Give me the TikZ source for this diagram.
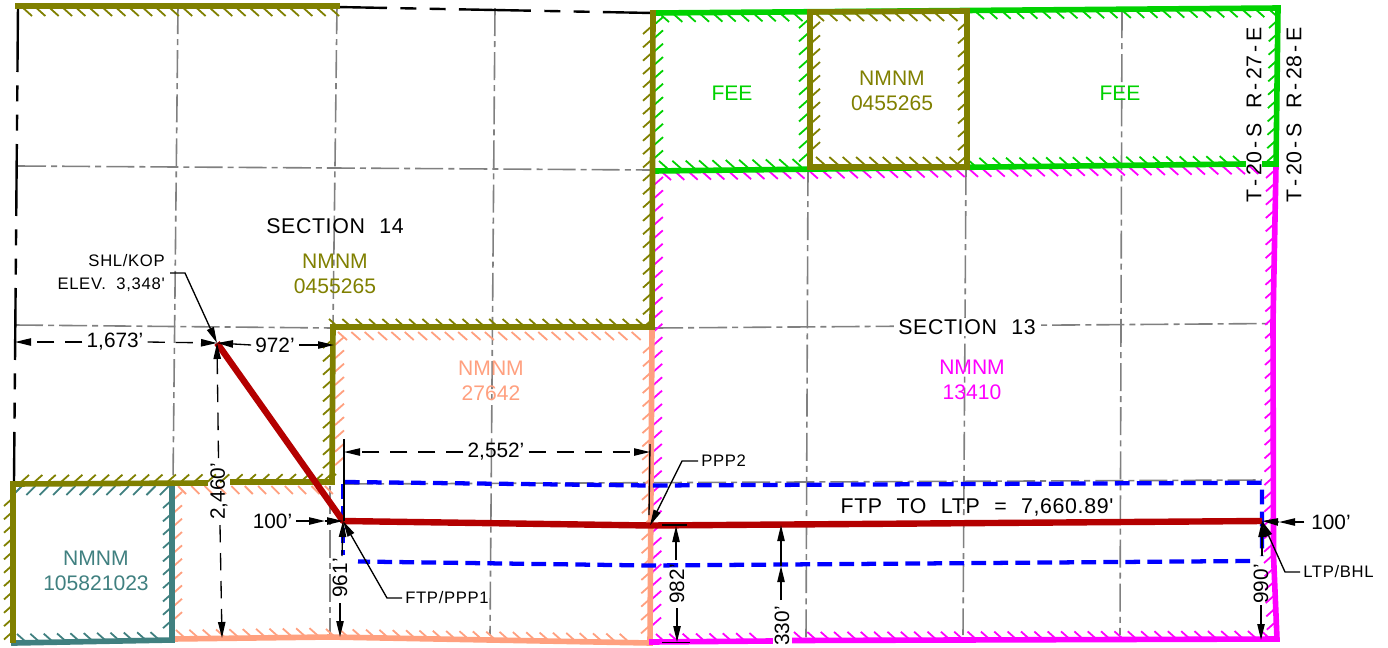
\documentclass[tikz,border=0pt]{standalone}
\usepackage{fontspec}
\setmainfont{Liberation Sans}
\newfontfamily\cadfont[LetterSpace=3,WordSpace=2.2]{Liberation Sans}
\newfontfamily\cadsmall[LetterSpace=4,WordSpace=2.0]{Liberation Sans}
\usetikzlibrary{arrows.meta}
\definecolor{olivec}{HTML}{808000}
\definecolor{greenc}{HTML}{00D200}
\definecolor{magc}{HTML}{FF00FF}
\definecolor{salmonc}{HTML}{FFA07F}
\definecolor{tealc}{HTML}{408080}
\definecolor{redc}{HTML}{B40000}
\definecolor{bluec}{HTML}{0000FF}
\definecolor{gridc}{HTML}{808080}
\newcommand\hatchrun[7]{%
  \pgfmathsetmacro\hL{veclen(#3-#1,#4-#2)}%
  \pgfmathtruncatemacro\hN{floor(\hL/13.35)}%
  \foreach \hi in {0,...,\hN}{%
    \pgfmathsetmacro\ht{\hi*13.35/\hL}%
    \draw[tickline,#5] ({#1+\ht*(#3-#1)},{#2+\ht*(#4-#2)}) -- ++(#6,#7);%
  }%
}
\newcommand\hh{\kern2.5pt-\kern2.5pt}
\tikzset{
  tickline/.style={line width=1.35pt},
  tract/.style={line width=4.2pt,line cap=rect,line join=miter},
  grid line/.style={gridc,line width=1.2pt,dash pattern=on 21pt off 3.8pt on 4.5pt off 3.8pt},
  border/.style={black,line width=1.8pt,dash pattern=on 54pt off 10pt on 12pt off 10pt on 12pt off 10pt},
  well/.style={redc,line width=4.8pt,line join=round},
  setback/.style={bluec,line width=3.2pt,dash pattern=on 11pt off 5.5pt},
  dim/.style={black,line width=1pt},
  dimdash/.style={dim,dash pattern=on 13pt off 8pt},
  tip/.style={-{Triangle[length=12pt,width=5.5pt]}},
  lbl/.style={font=\fontsize{15.8}{19}\selectfont,align=center,inner sep=0pt},
  dimlbl/.style={font=\fontsize{15.6}{19}\selectfont,inner sep=0pt},
  cad/.style={font=\fontsize{16}{19}\selectfont\cadfont,inner sep=0pt},
  small cad/.style={font=\fontsize{12.5}{17.25}\selectfont\cadsmall,inner sep=0pt},
}
\begin{document}
\begin{tikzpicture}[x=0.75pt,y=-0.75pt]
\useasboundingbox[fill=white] (0,0) rectangle (1388,647);
% named points
\coordinate (SHL) at (217,343);
\coordinate (FTP) at (343,521);
\coordinate (PPP) at (650,525.5);
\coordinate (LTP) at (1262,521);
\coordinate (NW) at (18,6);
\coordinate (WS) at (14,482);
\coordinate (NN) at (337,7);
\coordinate (NE) at (653,13);
% grid
\draw[grid line] (178,6) -- (173,482);
\draw[grid line] (337,6) -- (333,325);
\draw[grid line] (495,8) -- (490,635);
\draw[grid line] (808,168) -- (806,638);
\draw[grid line] (966,167) -- (963,635);
\draw[grid line] (1122,10) -- (1120,635);
\draw[grid line] (330,486) -- (330,636);
\draw[grid line] (18,166) -- (651,170);
\draw[grid line] (15,325) -- (333,328);
\draw[grid line] (655,328) -- (1273,323.5);
\draw[grid line] (345,484) -- (1262,480);
% black section border
\draw[border,dash phase=4.5pt] (NW) -- (WS);
\draw[border,dash phase=16.5pt] (NN) -- (NE);
% hatches
\hatchrun{22}{7}{335}{7}{olivec}{10}{9}
\hatchrun{13}{498}{13}{635}{olivec}{-9}{8}
\hatchrun{20}{483}{328}{482}{olivec}{9}{-8}
\hatchrun{332}{340}{332}{478}{olivec}{-9}{8}
\hatchrun{338}{327}{650}{327}{olivec}{-9}{-8}
\hatchrun{652}{26}{652}{326}{olivec}{-9}{8}
\hatchrun{22}{486}{170}{486}{tealc}{-9}{9}
\hatchrun{172}{500}{172}{628}{tealc}{-9}{8}
\hatchrun{26}{642}{170}{640}{tealc}{-9}{-8}
\hatchrun{660}{14}{800}{13}{greenc}{9}{8}
\hatchrun{975}{11}{1270}{9}{greenc}{9}{8}
\hatchrun{1278}{20}{1276}{160}{greenc}{-9}{8}
\hatchrun{668}{169}{805}{167}{greenc}{-9}{-8}
\hatchrun{975}{166}{1243}{164}{greenc}{-9}{-8}
\hatchrun{654}{25}{654}{165}{greenc}{9}{-8}
\hatchrun{808}{20}{808}{160}{greenc}{-9}{8}
\hatchrun{815}{13}{960}{13}{olivec}{9}{8}
\hatchrun{967}{22}{967}{158}{olivec}{-9}{8}
\hatchrun{825}{165}{960}{165}{olivec}{-9}{-8}
\hatchrun{811}{30}{811}{160}{olivec}{9}{-8}
\hatchrun{662}{172}{1250}{166}{magc}{9}{8}
\hatchrun{1275}{170}{1273}{555}{magc}{-9}{8}
\hatchrun{1273}{555}{1276}{625}{magc}{-9}{8}
\hatchrun{654}{185}{652}{636}{magc}{9}{-8}
\hatchrun{665}{642}{760}{641}{magc}{-9}{-8}
\hatchrun{803}{640}{1272}{639}{magc}{-9}{-8}
\hatchrun{338}{332}{640}{332}{salmonc}{9}{8}
\hatchrun{335}{345}{335}{478}{salmonc}{9}{-8}
\hatchrun{652}{345}{650}{630}{salmonc}{-9}{8}
\hatchrun{178}{486}{330}{486}{salmonc}{8}{8}
\hatchrun{173}{500}{173}{630}{salmonc}{9}{-8}
\hatchrun{185}{638}{330}{636}{salmonc}{-9}{-8}
\hatchrun{335}{637}{640}{642}{salmonc}{-9}{-8}
% tract lines
\draw[tract,salmonc] (173,639) -- (330,637) -- (650,643);
\draw[tract,salmonc] (652,329) -- (650,643);
\draw[tract,magc] (652,642) -- (770,641);
\draw[tract,magc] (795,640.5) -- (1277,639) -- (1273.5,555) -- (1273,323) -- (1276,166);
\draw[tract,tealc] (14,643) -- (172,640) -- (172,486);
\draw[tract,greenc] (653,13) -- (1278,8) -- (1276,164);
\draw[tract,greenc] (654,171) -- (1243,164);
\draw[tract,greenc] (1265,164) -- (1276,164);
\draw[tract,olivec] (18,6) -- (337,6);
\draw[tract,olivec] (13,640) -- (13,484) -- (205,483);
\draw[tract,olivec] (233,482) -- (332,482) -- (333,327) -- (652,327) -- (653,13);
\draw[tract,olivec] (810,12) -- (967,11) -- (967,167) -- (810,167) -- cycle;
% setback (lease) box
\draw[setback] (345,482) -- (650,485.5) -- (1262,482.7) -- (1262,556);
\draw[setback] (343,484) -- (343,555);
\draw[setback] (1250,561) -- (650,565.5) -- (358,561.5);
% well path
\draw[well] (SHL) -- (FTP) -- (PPP) -- (LTP);
% labels
\node[lbl,olivec] (n1) at (335,274) {NMNM\\0455265};
\node[lbl,olivec] (n2) at (892,91) {NMNM\\0455265};
\node[lbl,salmonc] (n3) at (491,381) {NMNM\\27642};
\node[lbl,magc] (n4) at (972,380) {NMNM\\13410};
\node[lbl,tealc] (n5) at (96,571) {NMNM\\105821023};
\node[lbl,greenc] (f1) at (732,93) {FEE};
\node[lbl,greenc] (f2) at (1120,93) {FEE};
\node[cad] (s14) at (335,226) {SECTION 14};
\node[cad,fill=white,inner xsep=3pt,inner ysep=1pt] (s13) at (967,327) {SECTION 13};
\node[cad] (ftl) at (977,507) {FTP TO LTP = 7,660.89'};
\node[cad,rotate=90] (r27) at (1254,115) {T\hh20\hh S R\hh27\hh E};
\node[cad,rotate=90] (r28) at (1294,115) {T\hh20\hh S R\hh28\hh E};
\node[small cad,align=right,anchor=east] (shl) at (165,273) {SHL/KOP\\ELEV. 3,348'};
\node[small cad,anchor=west] (ftpt) at (405,598) {FTP/PPP1};
\node[small cad,anchor=west] (ppp2) at (701,461) {PPP2};
\node[small cad,anchor=west] (ltpt) at (1303,572) {LTP/BHL};
% dimensions
\node[dimlbl] (d1673) at (115,342) {1,673'};
\node[dimlbl] (d972) at (275,345) {972'};
\node[dimlbl] (d2552) at (496,452) {2,552'};
\node[dimlbl,rotate=90] (d2460) at (219,491.5) {2,460'};
\node[dimlbl] (d100a) at (272.5,521) {100'};
\node[dimlbl] (d100b) at (1331,522) {100'};
\node[dimlbl,rotate=90] (d961) at (340,578) {961'};
\node[dimlbl,rotate=90] (d982) at (677,584) {982'};
\node[dimlbl,rotate=90] (d330) at (782,626) {330'};
\node[dimlbl,rotate=90] (d990) at (1261,584) {990'};
\coordinate (w1673) at (15,342);
\coordinate (e972) at (334,345);
\coordinate (e2552l) at (344,452);
\coordinate (e2552r) at (650,452);
% extension lines
\draw[dim] (344,439) -- (344,521);
\draw[dim] (650,444) -- (649,515);
\draw[dim] (662,525) -- (687,525);
\draw[dim] (662,642.5) -- (690,642.5);
% horizontal dims
\draw[dimdash,tip] ([xshift=-3]d1673.west) -- (w1673);
\draw[dimdash,tip] ([xshift=3]d1673.east) -- (SHL);
\draw[dim,tip] ([xshift=-3]d972.west) -- (SHL);
\draw[dim,tip] ([xshift=3]d972.east) -- (e972);
\draw[dimdash,tip] ([xshift=-3]d2552.west) -- (e2552l);
\draw[dimdash,tip] ([xshift=3]d2552.east) -- (e2552r);
\draw[dim,tip] ([xshift=3]d100a.east) -- (325,521);
\draw[dim,tip] (325,521) -- (FTP);
\draw[dim,tip] ([xshift=-5]d100b.west) -- (1279,522);
\draw[dim,tip] (1279,522) -- (LTP);
% vertical dims
\draw[dimdash,tip] (218.5,458) -- (SHL);
\draw[dimdash,tip] (220,525) -- (222,638);
\draw[dim,tip] (342,556) -- (FTP);
\draw[dim,tip] (340,603) -- (340,637);
\draw[dim,tip] (676,560) -- (676,526);
\draw[dim,tip] (677,608) -- (677,642);
\draw[dim,tip] (781,600) -- (781,566);
\draw[dim,tip] (781,566) -- (781,525);
\draw[dim,tip] (1262,556) -- (LTP);
\draw[dim,tip] (1261,605) -- (1261,640);
% leaders
\draw[dim,tip] (170,273) -- (185,273) -- (SHL);
\draw[dim,tip] (ftpt.west) ++(-3,0) -- (387,598) -- (FTP);
\draw[dim,tip] (ppp2.west) ++(-3,0) -- (682,461) -- (PPP);
\draw[dim,tip] (ltpt.west) ++(-3,0) -- (1285,572) -- (LTP);
\end{tikzpicture}
\end{document}
